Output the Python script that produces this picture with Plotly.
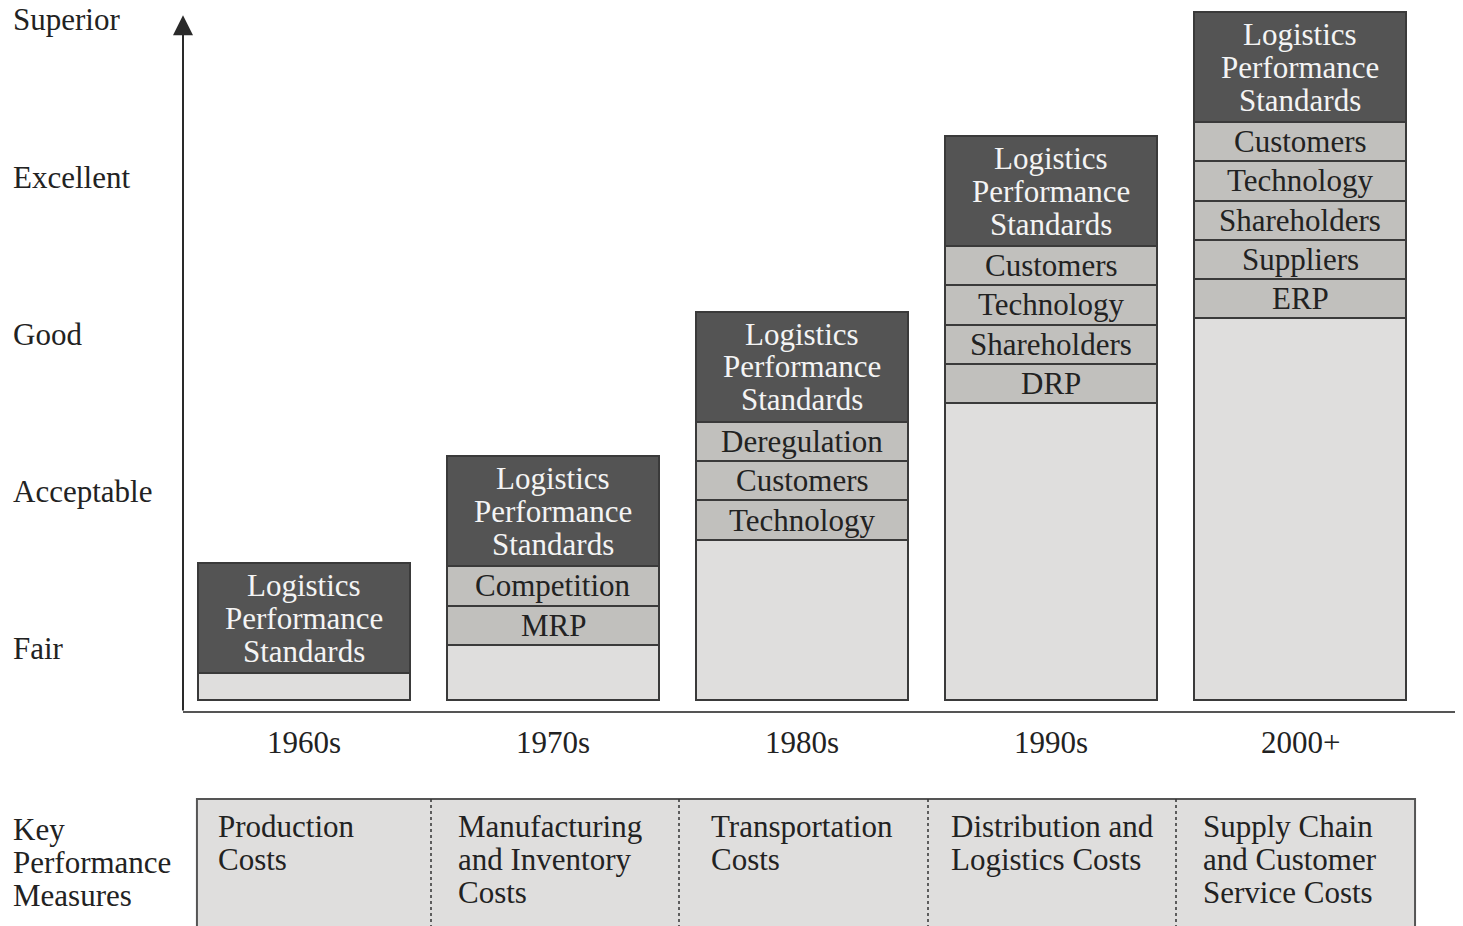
import plotly.graph_objects as go

# ---------------- data ----------------
decades = ["1960s", "1970s", "1980s", "1990s", "2000+"]
bar_top = [1.54, 2.22, 3.14, 4.26, 5.05]          # performance level reached (Fair=1 ... Superior=5)
bar_bottom = 0.67
standards_label = ["Logistics", "Performance", "Standards"]
drivers = [
    [],
    ["Competition", "MRP"],
    ["Deregulation", "Customers", "Technology"],
    ["Customers", "Technology", "Shareholders", "DRP"],
    ["Customers", "Technology", "Shareholders", "Suppliers", "ERP"],
]
levels = ["Fair", "Acceptable", "Good", "Excellent", "Superior"]
level_values = [1, 2, 3, 4, 5]
key_measures = [
    ["Production", "Costs"],
    ["Manufacturing", "and Inventory", "Costs"],
    ["Transportation", "Costs"],
    ["Distribution and", "Logistics Costs"],
    ["Supply Chain", "and Customer", "Service Costs"],
]
kpm_title = ["Key", "Performance", "Measures"]

# ---------------- style ----------------
DARK = "#545454"
MID = "#c1c0bd"
LIGHT = "#dfdedd"
EDGE = "#3a3a3a"
TXT = "#222222"
FONT = "Liberation Serif"
FS = 31
STD_H = 0.70      # height of the standards box
DRV_H = 0.25      # height of each driver box
LINE = 0.21       # line spacing in level units
BAR_W = 0.855

W, H = 1455, 918   # page body keeps an 8px margin
X_RANGE = [-1.1888, 4.6546]
Y_RANGE = [-0.7707, 5.0764]
AXIS_X = -0.486
AXIS_Y = 0.592
LABEL_X = 3 / W

xs = list(range(len(decades)))
fig = go.Figure()

# light base segment
light_h = [t - STD_H - DRV_H * len(d) - bar_bottom for t, d in zip(bar_top, drivers)]
fig.add_trace(go.Bar(x=xs, y=light_h, base=[bar_bottom] * len(xs), width=BAR_W,
                     marker=dict(color=LIGHT, line=dict(color=EDGE, width=2)),
                     hoverinfo="skip", showlegend=False))

# driver segments
max_d = max(len(d) for d in drivers)
for k in range(max_d):
    bx, by, bb = [], [], []
    for i, d in enumerate(drivers):
        if k < len(d):
            bx.append(i)
            by.append(DRV_H)
            bb.append(bar_top[i] - STD_H - DRV_H * (k + 1))
    fig.add_trace(go.Bar(x=bx, y=by, base=bb, width=BAR_W,
                         marker=dict(color=MID, line=dict(color=EDGE, width=2)),
                         hoverinfo="skip", showlegend=False))

# standards box
fig.add_trace(go.Bar(x=xs, y=[STD_H] * len(xs), base=[t - STD_H for t in bar_top], width=BAR_W,
                     marker=dict(color=DARK, line=dict(color=EDGE, width=2)),
                     hoverinfo="skip", showlegend=False))

ann = []
for i, t in enumerate(bar_top):
    c = t - STD_H / 2
    for j, s in enumerate(standards_label):
        ann.append(dict(x=i, y=c + LINE * (1 - j), text=s, xref="x", yref="y",
                        showarrow=False, font=dict(family=FONT, size=FS, color="#f4f4f4"),
                        xanchor="center", yanchor="middle"))
    for k, s in enumerate(drivers[i]):
        ann.append(dict(x=i, y=t - STD_H - DRV_H * (k + 0.5), text=s, xref="x", yref="y",
                        showarrow=False, font=dict(family=FONT, size=FS, color=TXT),
                        xanchor="center", yanchor="middle"))
    ann.append(dict(x=i, y=0.40, text=decades[i], xref="x", yref="y", showarrow=False,
                    font=dict(family=FONT, size=FS, color=TXT), xanchor="center", yanchor="middle"))

for v, s in zip(level_values, levels):
    ann.append(dict(x=LABEL_X, y=v, text=s, xref="paper", yref="y", showarrow=False,
                    font=dict(family=FONT, size=FS, color=TXT), xanchor="left", yanchor="middle"))

# y-axis arrow
ann.append(dict(x=AXIS_X, y=5.03, ax=AXIS_X, ay=AXIS_Y, xref="x", yref="y", axref="x", ayref="y",
                text="", showarrow=True, arrowhead=2, arrowsize=2, arrowwidth=2, arrowcolor="#2a2a2a"))

# key performance measures table
TAB_TOP = 0.038
cell_left = [-0.430, 0.51, 1.506, 2.506, 3.502]
text_pad = [0.075, 0.10, 0.12, 0.085, 0.10]
tab_right = 4.462
for i, lines in enumerate(key_measures):
    for j, s in enumerate(lines):
        ann.append(dict(x=cell_left[i] + text_pad[i], y=-0.140 - LINE * j, text=s, xref="x", yref="y",
                        showarrow=False, font=dict(family=FONT, size=FS, color=TXT),
                        xanchor="left", yanchor="middle"))
for j, s in enumerate(kpm_title):
    ann.append(dict(x=LABEL_X, y=-0.153 - 0.213 * j, text=s, xref="paper", yref="y",
                    showarrow=False, font=dict(family=FONT, size=FS, color=TXT),
                    xanchor="left", yanchor="middle"))

shapes = [
    dict(type="line", xref="x", yref="y", x0=AXIS_X, x1=X_RANGE[1], y0=AXIS_Y, y1=AXIS_Y,
         line=dict(color="#555", width=2)),
    dict(type="rect", xref="x", yref="y", x0=cell_left[0], x1=tab_right, y0=TAB_TOP, y1=-1.5,
         fillcolor=LIGHT, line=dict(color="#555", width=2), layer="below"),
]
for xl in cell_left[1:]:
    shapes.append(dict(type="line", xref="x", yref="y", x0=xl, x1=xl, y0=TAB_TOP, y1=-1.5,
                       line=dict(color="#333", width=1.5, dash="dot")))

fig.update_layout(
    width=W, height=H,
    margin=dict(l=0, r=0, t=0, b=0),
    paper_bgcolor="white", plot_bgcolor="white",
    barmode="overlay", bargap=0,
    xaxis=dict(range=X_RANGE, visible=False, fixedrange=True),
    yaxis=dict(range=Y_RANGE, visible=False, fixedrange=True),
    annotations=ann, shapes=shapes,
    showlegend=False,
)

fig.write_html("out.html")
